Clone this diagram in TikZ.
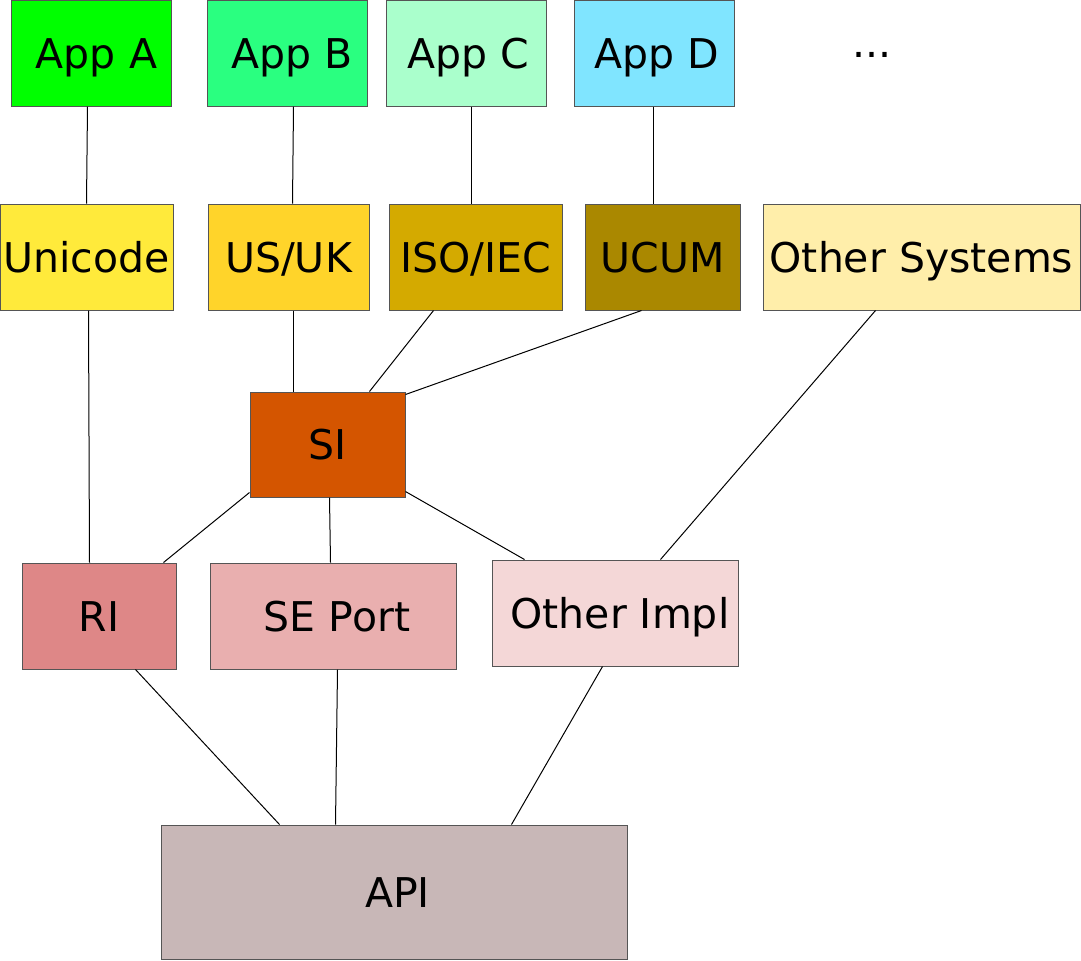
\documentclass[tikz,border=0pt]{standalone}
\usepackage{fontspec}
\setmainfont{DejaVu Sans}
\definecolor{cAppA}{HTML}{00FF00}
\definecolor{cAppB}{HTML}{2AFF80}
\definecolor{cAppC}{HTML}{AAFFCC}
\definecolor{cAppD}{HTML}{80E5FF}
\definecolor{cUni}{HTML}{FFEA3B}
\definecolor{cUS}{HTML}{FFD42A}
\definecolor{cISO}{HTML}{D4AA00}
\definecolor{cUCUM}{HTML}{AA8800}
\definecolor{cOther}{HTML}{FFEEAA}
\definecolor{cSI}{HTML}{D45500}
\definecolor{cRI}{HTML}{DE8787}
\definecolor{cSE}{HTML}{E9AFAF}
\definecolor{cOImpl}{HTML}{F4D7D7}
\definecolor{cAPI}{HTML}{C8B7B7}
\definecolor{cBorder}{HTML}{555555}
\tikzset{
  box/.style={draw=cBorder, line width=0.5pt, rectangle, inner sep=0pt,
    font=\fontsize{20.5}{24}\selectfont, text height=15pt, text depth=0pt},
  link/.style={draw=black, line width=0.5pt}
}
\begin{document}
\begin{tikzpicture}[x=0.5pt,y=-0.5pt]
\useasboundingbox (0,0) rectangle (1081,960);
% top row
\node[box, fill=cAppA, minimum width=80pt, minimum height=53pt] (appA) at (91,53) {\hspace*{5.5pt}App A};
\node[box, fill=cAppB, minimum width=80pt, minimum height=53pt] (appB) at (287,53) {\hspace*{5pt}App B};
\node[box, fill=cAppC, minimum width=80pt, minimum height=53pt] (appC) at (466,53) {\hspace*{2pt}App C};
\node[box, fill=cAppD, minimum width=80pt, minimum height=53pt] (appD) at (654,53) {\hspace*{3pt}App D};
\node[font=\fontsize{20.5}{24}\selectfont, inner sep=0pt, anchor=base] (dots) at (872,57) {...};
% systems row
\node[box, fill=cUni, minimum width=86.5pt, minimum height=53pt] (uni) at (86.5,257) {Unicode};
\node[box, fill=cUS, minimum width=80.5pt, minimum height=53pt] (usuk) at (288.5,257) {US/UK};
\node[box, fill=cISO, minimum width=86.5pt, minimum height=53pt] (iso) at (475.5,257) {ISO/IEC};
\node[box, fill=cUCUM, minimum width=77.5pt, minimum height=53pt] (ucum) at (662.5,257) {UCUM};
\node[box, fill=cOther, minimum width=158.5pt, minimum height=53pt] (osys) at (921.5,257) {Other Systems};
% SI
\node[box, fill=cSI, minimum width=77.5pt, minimum height=52.5pt] (si) at (327.5,444.5) {SI};
% implementations
\node[box, fill=cRI, minimum width=77pt, minimum height=53pt] (ri) at (99,616) {RI};
\node[box, fill=cSE, minimum width=123pt, minimum height=53pt] (se) at (333,616) {\hspace*{4pt}SE Port};
\node[box, fill=cOImpl, minimum width=123pt, minimum height=53pt] (oimpl) at (615,613) {\hspace*{5pt}Other Impl};
% API
\node[box, fill=cAPI, minimum width=233pt, minimum height=67pt] (api) at (394,892) {\hspace*{3.5pt}API};
% connectors
\draw[link] ([xshift=38.5pt]appA.south west) -- ([xshift=43.5pt]uni.north west);
\draw[link] ([xshift=43.5pt]appB.south west) -- ([xshift=42.5pt]usuk.north west);
\draw[link] ([xshift=43pt]appC.south west) -- ([xshift=41.5pt]iso.north west);
\draw[link] ([xshift=40pt]appD.south west) -- ([xshift=34.5pt]ucum.north west);
\draw[link] ([xshift=44.5pt]uni.south west) -- ([xshift=34pt]ri.north west);
\draw[link] ([xshift=43pt]usuk.south west) -- ([xshift=22pt]si.north west);
\draw[link] ([xshift=22.5pt]iso.south west) -- ([xshift=60pt]si.north west);
\draw[link] ([xshift=28.5pt]ucum.south west) -- ([yshift=-1.5pt]si.north east);
\draw[link] ([xshift=56.5pt]osys.south west) -- ([xshift=84.5pt]oimpl.north west);
\draw[link] ([yshift=2.5pt]si.south west) -- ([xshift=71pt]ri.north west);
\draw[link] ([xshift=40pt]si.south west) -- ([xshift=60.5pt]se.north west);
\draw[link] ([yshift=3pt]si.south east) -- ([xshift=16.5pt]oimpl.north west);
\draw[link] ([xshift=57pt]ri.south west) -- ([xshift=59.5pt]api.north west);
\draw[link] ([xshift=64pt]se.south west) -- ([xshift=87.5pt]api.north west);
\draw[link] ([xshift=55.5pt]oimpl.south west) -- ([xshift=175.5pt]api.north west);
\end{tikzpicture}
\end{document}
